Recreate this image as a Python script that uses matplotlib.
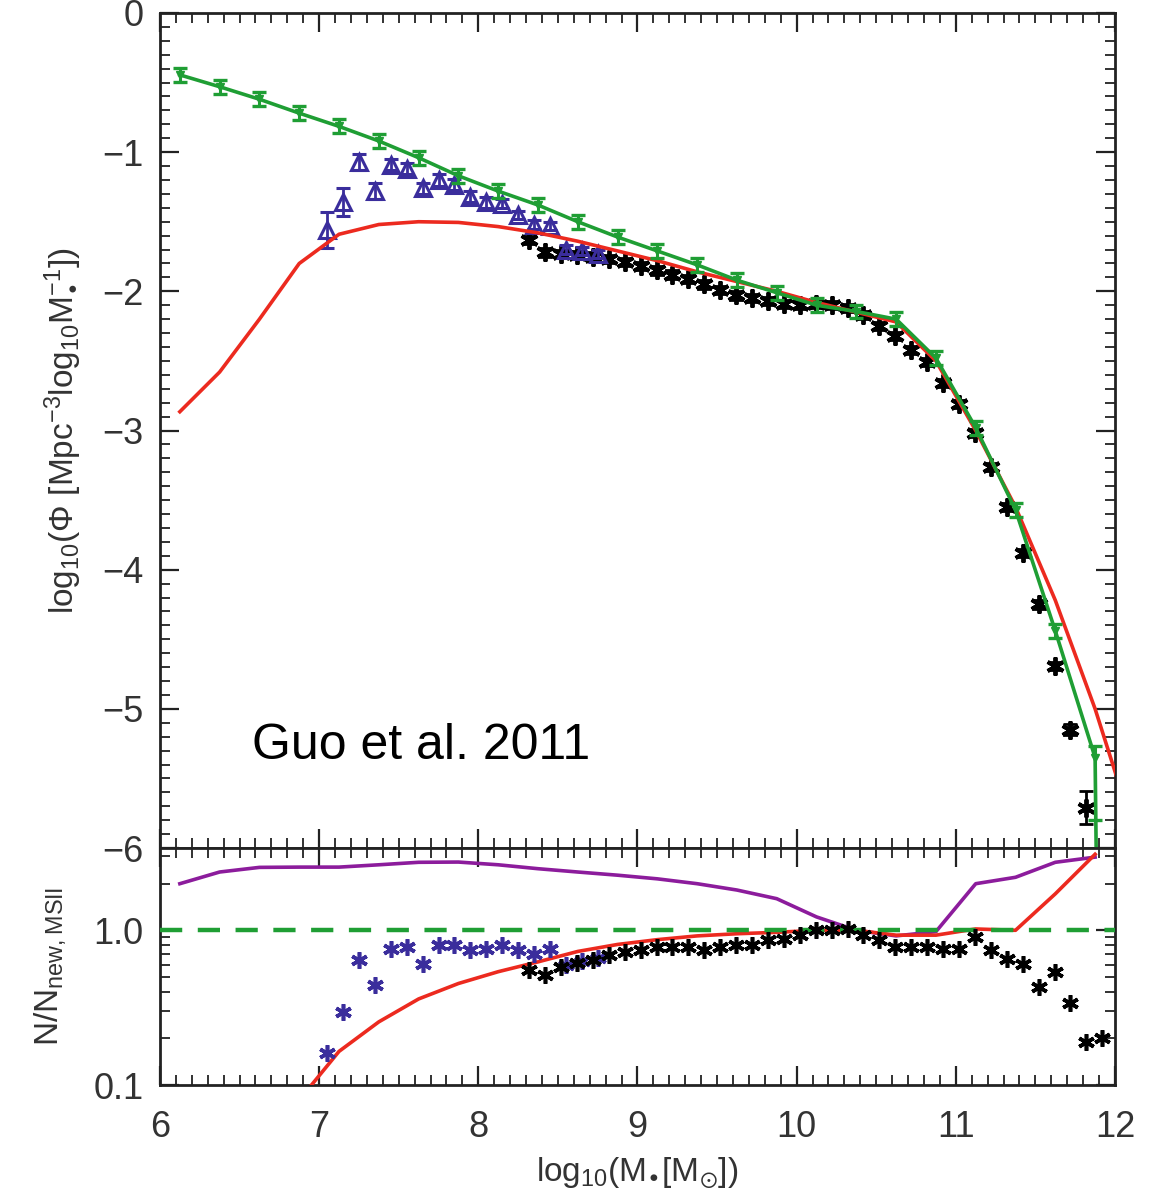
import matplotlib
matplotlib.use('Agg')
import matplotlib.pyplot as plt
from matplotlib.ticker import MultipleLocator, FixedLocator, FixedFormatter, NullFormatter

plt.rcParams['font.family'] = ['Liberation Sans Narrow', 'Liberation Sans', 'DejaVu Sans']
plt.rcParams['mathtext.fontset'] = 'dejavusans'
plt.rcParams['mathtext.default'] = 'regular'

# --- top panel: stellar mass function ---
green_x = [6.125, 6.375, 6.625, 6.875, 7.125, 7.375, 7.625, 7.875, 8.125, 8.375,
           8.625, 8.875, 9.125, 9.375, 9.625, 9.875, 10.125, 10.375, 10.625, 10.875,
           11.125, 11.375, 11.625, 11.875, 12.125]
green_y = [-0.445, -0.53, -0.62, -0.72, -0.815, -0.92, -1.04, -1.17, -1.28, -1.38,
           -1.50, -1.61, -1.71, -1.81, -1.92, -2.01, -2.10, -2.145, -2.20, -2.48,
           -2.98, -3.57, -4.44, -5.35, -30.0]
green_elo = [0.05] * 23 + [0.45, 0.0]
green_ehi = [0.05] * 23 + [0.08, 0.0]

red_x = green_x
red_y = [-2.865, -2.58, -2.20, -1.80, -1.59, -1.52, -1.50, -1.505, -1.535, -1.58,
         -1.64, -1.71, -1.78, -1.86, -1.93, -2.00, -2.08, -2.15, -2.22, -2.50,
         -3.00, -3.55, -4.22, -5.00, -5.90]

blue_x = [7.05, 7.15, 7.25, 7.35, 7.45, 7.55, 7.65, 7.75, 7.85, 7.95,
          8.05, 8.15, 8.25, 8.35, 8.45, 8.55, 8.65, 8.75]
blue_y = [-1.56, -1.36, -1.07, -1.28, -1.09, -1.12, -1.26, -1.20, -1.235, -1.32,
          -1.36, -1.37, -1.45, -1.52, -1.53, -1.70, -1.71, -1.73]
blue_err = [0.13, 0.10, 0.06, 0.06, 0.04, 0.04, 0.04, 0.04, 0.04, 0.04,
            0.04, 0.03, 0.03, 0.03, 0.03, 0.03, 0.03, 0.03]

black_x = [8.32, 8.42, 8.52, 8.62, 8.72, 8.82, 8.92, 9.02, 9.12, 9.22,
           9.32, 9.42, 9.52, 9.62, 9.72, 9.82, 9.92, 10.02, 10.12, 10.22,
           10.32, 10.42, 10.52, 10.62, 10.72, 10.82, 10.92, 11.02, 11.12, 11.22,
           11.32, 11.42, 11.52, 11.62, 11.72, 11.82]
black_y = [-1.63, -1.72, -1.73, -1.74, -1.75, -1.77, -1.79, -1.82, -1.85, -1.88,
           -1.91, -1.95, -1.99, -2.03, -2.05, -2.07, -2.09, -2.10, -2.09, -2.10,
           -2.12, -2.17, -2.25, -2.32, -2.42, -2.51, -2.66, -2.81, -3.02, -3.26,
           -3.55, -3.88, -4.25, -4.69, -5.15, -5.71]
black_err = [0.03] * 34 + [0.04, 0.12]

# --- bottom panel: ratios ---
rgrid_x = green_x[:-1]
purple_r = [2.0, 2.38, 2.55, 2.56, 2.56, 2.65, 2.75, 2.76, 2.65, 2.5,
            2.38, 2.27, 2.15, 2.0, 1.82, 1.60, 1.22, 1.0, 0.92, 0.98,
            2.0, 2.2, 2.75, 2.97]
red_r = [0.004, 0.009, 0.026, 0.08, 0.165, 0.256, 0.36, 0.453, 0.54, 0.625,
         0.73, 0.81, 0.87, 0.92, 0.95, 0.97, 1.0, 1.0, 0.93, 0.93,
         1.02, 1.0, 1.72, 3.1]
blue_rx = blue_x
blue_r = [0.16, 0.297, 0.64, 0.44, 0.762, 0.78, 0.61, 0.80, 0.80, 0.743,
          0.762, 0.80, 0.743, 0.707, 0.762, 0.60, 0.63, 0.66]
black_rx = black_x + [11.92]
black_r = [0.552, 0.512, 0.577, 0.613, 0.64, 0.69, 0.724, 0.743, 0.78, 0.78,
           0.78, 0.743, 0.78, 0.80, 0.80, 0.862, 0.884, 0.928, 1.0, 1.0,
           1.025, 0.928, 0.862, 0.78, 0.78, 0.78, 0.762, 0.762, 0.905, 0.743,
           0.657, 0.61, 0.43, 0.538, 0.337, 0.19, 0.20]

GREEN = '#1f9e34'
RED = '#ec2a1f'
BLUE = '#3a2d9c'
PURPLE = '#8c1c9c'
TXT = '#333333'
asterisk = (6, 2, 0)

fig = plt.figure(figsize=(11.54, 12), dpi=100)
ax1 = fig.add_axes([0.1386, 0.2933, 0.8276, 0.6959])
ax2 = fig.add_axes([0.1386, 0.0958, 0.8276, 0.1975])

ax1.errorbar(black_x, black_y, yerr=black_err, fmt='none', ecolor='black', elinewidth=2,
             capsize=5, capthick=2, zorder=2)
ax1.plot(black_x, black_y, linestyle='none', marker=asterisk, ms=13, mew=2.8,
         color='black', zorder=2)
ax1.errorbar(blue_x, blue_y, yerr=blue_err, fmt='^', ms=12, mfc='none', mec=BLUE, mew=2.2,
             ecolor=BLUE, elinewidth=2, capsize=5, capthick=2, zorder=3)
ax1.plot(red_x, red_y, color=RED, lw=2.6, zorder=4)
ax1.errorbar(green_x, green_y, yerr=[green_elo, green_ehi], fmt='-v', color=GREEN, lw=2.6,
             ms=6, elinewidth=2.2, capsize=5, capthick=2.4, zorder=5)
ax1.text(6.58, -5.27, 'Guo et al. 2011', fontsize=36, color='black',
         family=['Liberation Sans', 'DejaVu Sans'], va='center')

ax1.set_xlim(6, 12)
ax1.set_ylim(-6, 0)
ax1.set_yticks([0, -1, -2, -3, -4, -5, -6])
ax1.xaxis.set_major_locator(MultipleLocator(1))
ax1.xaxis.set_minor_locator(MultipleLocator(0.1))
ax1.yaxis.set_minor_locator(MultipleLocator(0.1))
ax1.xaxis.set_major_formatter(NullFormatter())
ax1.set_ylabel('log$_{10}$($\\Phi$ [Mpc$^{-3}$log$_{10}$M$_{•}^{-1}$])',
               fontsize=24, color=TXT, labelpad=14)

ax2.plot(rgrid_x, purple_r, color=PURPLE, lw=2.6, zorder=2)
ax2.plot(rgrid_x, red_r, color=RED, lw=2.6, zorder=3)
ax2.axhline(1.0, color=GREEN, lw=3.2, dashes=(5, 3.5), zorder=4)
ax2.plot(blue_rx, blue_r, linestyle='none', marker=asterisk, ms=12, mew=2.6, color=BLUE, zorder=5)
ax2.plot(black_rx, black_r, linestyle='none', marker=asterisk, ms=12, mew=2.6, color='black', zorder=6)

ax2.set_yscale('log')
ax2.set_xlim(6, 12)
ax2.set_ylim(0.1, 3.4)
ax2.yaxis.set_major_locator(FixedLocator([0.1, 1.0]))
ax2.yaxis.set_major_formatter(FixedFormatter(['0.1', '1.0']))
ax2.yaxis.set_minor_locator(FixedLocator([0.2, 0.3, 0.4, 0.5, 0.6, 0.7, 0.8, 0.9, 2, 3]))
ax2.yaxis.set_minor_formatter(NullFormatter())
ax2.xaxis.set_major_locator(MultipleLocator(1))
ax2.xaxis.set_minor_locator(MultipleLocator(0.1))
ax2.set_ylabel('N/N$_{new,MSII}$', fontsize=24, color=TXT, labelpad=18)
ax2.set_xlabel('log$_{10}$(M$_{•}$[M$_{\\odot}$])', fontsize=24, color=TXT, labelpad=8)

for ax in (ax1, ax2):
    ax.tick_params(which='both', direction='in', top=True, right=True, color='#222222',
                   labelcolor=TXT, labelsize=26)
    ax.tick_params(which='major', length=14, width=1.6)
    ax.tick_params(which='minor', length=7, width=1.3)
    ax.tick_params(axis='y', pad=12)
    ax.tick_params(axis='x', pad=18)
    for s in ax.spines.values():
        s.set_linewidth(2)
        s.set_color('#222222')

fig.savefig('out.png', dpi=100)
